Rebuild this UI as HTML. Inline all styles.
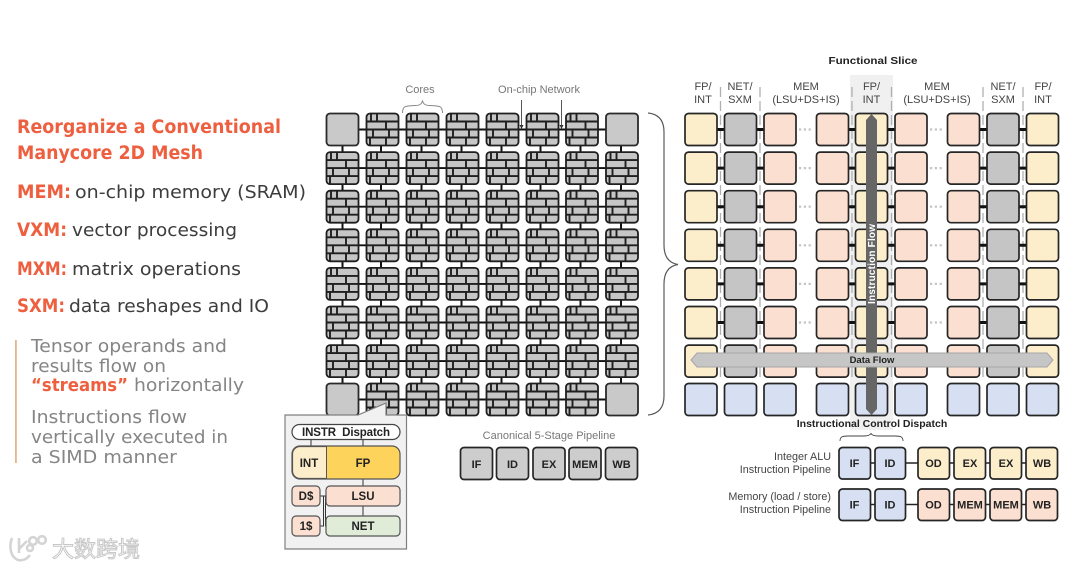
<!DOCTYPE html>
<html><head><meta charset="utf-8"><style>
html,body{margin:0;padding:0;background:#fff}
svg{display:block;filter:blur(0.35px)}
text{font-family:"Liberation Sans",sans-serif}
.d{font-family:"DejaVu Sans","Liberation Sans",sans-serif}
.h{font-size:18.5px;font-weight:bold;fill:#ee5f3f}
.b{font-size:18px;fill:#3d3d3d}
.g{font-size:18px;fill:#858585}
.l{font-size:11px;fill:#444;text-anchor:middle}
.k{font-size:11px;fill:#777;text-anchor:middle}
.t{font-size:10.5px;font-weight:bold;fill:#222;text-anchor:middle}
.p{font-size:10.8px;fill:#444;text-anchor:end}
.q{font-size:11px;font-weight:bold;fill:#222;text-anchor:middle}
.pop{font-size:11.5px;font-weight:bold;fill:#222;text-anchor:middle}
</style></head><body>
<svg width="1080" height="569" viewBox="0 0 1080 569" xmlns="http://www.w3.org/2000/svg">
<defs>
<g id="core">
<rect x="0.5" y="0.5" width="32" height="32" rx="3.5" fill="#c6c6c6" stroke="#1f1f1f" stroke-width="1.8"/>
<path d="M1 8.5H32M1 16.5H32M1 24.5H32M5 1V8.5M11 1V8.5M20 8.5V16.5M7 16.5V24.5M23 16.5V24.5M4 24.5V32M20 24.5V32" fill="none" stroke="#1f1f1f" stroke-width="1.9"/>
</g>
<rect id="plain" x="0.5" y="0.5" width="32" height="32" rx="3.5" fill="#c9c9c9" stroke="#2a2a2a" stroke-width="1.8"/>
<path id="vt" d="M16.5 33V39" stroke="#111" stroke-width="2" fill="none"/>
<g id="rowEnd">
<path d="M340 16.5H622" stroke="#111" stroke-width="1.9"/>
<use href="#plain" x="326"/><use href="#core" x="366"/><use href="#core" x="406"/><use href="#core" x="446"/><use href="#core" x="486"/><use href="#core" x="526"/><use href="#core" x="565.500"/><use href="#plain" x="605.500"/>
</g>
<g id="rowMid">
<path d="M340 16.5H622" stroke="#111" stroke-width="1.9"/>
<use href="#core" x="326"/><use href="#core" x="366"/><use href="#core" x="406"/><use href="#core" x="446"/><use href="#core" x="486"/><use href="#core" x="526"/><use href="#core" x="565.500"/><use href="#core" x="605.500"/>
</g>
<g id="vts">
<use href="#vt" x="326"/><use href="#vt" x="364.500"/><use href="#vt" x="405"/><use href="#vt" x="445"/><use href="#vt" x="485"/><use href="#vt" x="524"/><use href="#vt" x="564"/><use href="#vt" x="604.500"/>
</g>
<g id="rg">
<path d="M716 16.5H726M756 16.5H765M848 16.5H857M887 16.5H897M979 16.5H989M1018 16.5H1028" stroke="#111" stroke-width="3" fill="none"/>
<path d="M799 16.5H813M930 16.5H944" stroke="#c4c4c4" stroke-width="2.200" stroke-dasharray="2.200 2.600" fill="none"/>
<g stroke="#262626" stroke-width="1.700">
<rect x="685" y="0.5" width="32" height="32" rx="3.500" fill="#fdeecb"/>
<rect x="724.500" y="0.5" width="32" height="32" rx="3.500" fill="#c5c5c5"/>
<rect x="764" y="0.5" width="32" height="32" rx="3.500" fill="#fbdfd0"/>
<rect x="816.500" y="0.5" width="32" height="32" rx="3.500" fill="#fbdfd0"/>
<rect x="855.500" y="0.5" width="32" height="32" rx="3.500" fill="#fdeecb"/>
<rect x="895" y="0.5" width="32" height="32" rx="3.500" fill="#fbdfd0"/>
<rect x="947.500" y="0.5" width="32" height="32" rx="3.500" fill="#fbdfd0"/>
<rect x="987" y="0.5" width="32" height="32" rx="3.500" fill="#c5c5c5"/>
<rect x="1026.500" y="0.5" width="32" height="32" rx="3.500" fill="#fdeecb"/>
</g>
</g>
</defs>

<rect width="1080" height="569" fill="#fff"/>

<!-- Left copy -->
<text x="17" y="133" class="h d" textLength="264" lengthAdjust="spacingAndGlyphs">Reorganize a Conventional</text>
<text x="17" y="159" class="h d" textLength="186" lengthAdjust="spacingAndGlyphs">Manycore 2D Mesh</text>
<text x="17" y="198" class="h d" textLength="54" lengthAdjust="spacingAndGlyphs">MEM:</text>
<text x="75" y="198" class="b d" textLength="231" lengthAdjust="spacingAndGlyphs">on-chip memory (SRAM)</text>
<text x="17" y="236" class="h d" textLength="50" lengthAdjust="spacingAndGlyphs">VXM:</text>
<text x="72" y="236" class="b d" textLength="165" lengthAdjust="spacingAndGlyphs">vector processing</text>
<text x="17" y="275" class="h d" textLength="50" lengthAdjust="spacingAndGlyphs">MXM:</text>
<text x="72" y="275" class="b d" textLength="169" lengthAdjust="spacingAndGlyphs">matrix operations</text>
<text x="17" y="312" class="h d" textLength="48" lengthAdjust="spacingAndGlyphs">SXM:</text>
<text x="69" y="312" class="b d" textLength="200" lengthAdjust="spacingAndGlyphs">data reshapes and IO</text>
<rect x="15" y="340" width="1.800" height="123" fill="#e8b48c"/>
<text x="31" y="352" class="g d" textLength="196" lengthAdjust="spacingAndGlyphs">Tensor operands and</text>
<text x="31" y="372" class="g d" textLength="135" lengthAdjust="spacingAndGlyphs">results flow on</text>
<text x="31" y="391" class="d" font-size="18" font-weight="bold" fill="#ee5f3f" textLength="97" lengthAdjust="spacingAndGlyphs">“streams”</text>
<text x="134" y="391" class="g d" textLength="110" lengthAdjust="spacingAndGlyphs">horizontally</text>
<text x="31" y="423" class="g d" textLength="156" lengthAdjust="spacingAndGlyphs">Instructions flow</text>
<text x="31" y="443" class="g d" textLength="197" lengthAdjust="spacingAndGlyphs">vertically executed in</text>
<text x="31" y="463" class="g d" textLength="146" lengthAdjust="spacingAndGlyphs">a SIMD manner</text>

<!-- Watermark -->
<g fill="none" stroke="#d4d4d4" stroke-width="2.600">
<path d="M12 538C9 546 10 557 18 560C23 561 27 559 30 555"/>
<path d="M19 538V553M19 549L27 541"/>
<circle cx="33" cy="541" r="3.800"/><circle cx="42" cy="540" r="3.800"/><circle cx="30" cy="548" r="3"/>
</g>
<text x="52" y="557" font-size="22" style='font-family:"Noto Sans CJK SC",sans-serif' fill="#fff" stroke="#c8c8c8" stroke-width="1" textLength="88" lengthAdjust="spacingAndGlyphs">大数跨境</text>

<!-- Labels above the mesh -->
<text x="420" y="93" class="k">Cores</text>
<path d="M402.500 113C402.500 106 405 106 415 105.500C420 105.500 421.500 104 422.500 101C423.500 104 425 105.500 430 105.500C440 106 442.500 106 442.500 113" fill="none" stroke="#888" stroke-width="1"/>
<text x="539" y="93" class="k">On-chip Network</text>
<path d="M521.500 100V127M561.500 100V127" stroke="#444" stroke-width="0.900"/>
<path d="M519.500 125H523.500L521.500 129ZM559.500 125H563.500L561.500 129Z" fill="#333"/>

<!-- Mesh -->
<g transform="translate(0,113)"><use href="#vts"/><use href="#rowEnd"/></g>
<g transform="translate(0,151.600)"><use href="#vts"/><use href="#rowMid"/></g>
<g transform="translate(0,190.200)"><use href="#vts"/><use href="#rowMid"/></g>
<g transform="translate(0,228.800)"><use href="#vts"/><use href="#rowMid"/></g>
<g transform="translate(0,267.400)"><use href="#vts"/><use href="#rowMid"/></g>
<g transform="translate(0,306)"><use href="#vts"/><use href="#rowMid"/></g>
<g transform="translate(0,344.600)"><use href="#vts"/><use href="#rowMid"/></g>
<g transform="translate(0,383)"><use href="#rowEnd"/></g>

<!-- Large brace -->
<path d="M648 113C658 114 664 120 664 132V245C664 257 669 263 678 264.500C669 266 664 272 664 284V396C664 408 658 414 648 415" fill="none" stroke="#5a5a5a" stroke-width="1.200"/>

<!-- Popup -->
<path d="M285 415H358L386 403V415H406.500V549H285Z" fill="#f1f1f1" stroke="#808080" stroke-width="1.200"/>
<path d="M311 439V446M363 439V446M363 479V486M363 506V516" stroke="#444" stroke-width="1.100"/>
<path d="M320 496H323.500V526H320M323.500 496H326M325.500 496V526H326" fill="none" stroke="#333" stroke-width="1"/>
<rect x="292" y="424.500" width="108" height="15" rx="7.500" fill="#fff" stroke="#444" stroke-width="1.200"/>
<text x="346" y="436" class="pop" textLength="88" lengthAdjust="spacing" xml:space="preserve">INSTR  Dispatch</text>
<rect x="292" y="446" width="108" height="33" rx="8" fill="#fdd35c" stroke="#555" stroke-width="1.200"/>
<path d="M326.500 446.600H300A7.400 7.400 0 0 0 292.600 454V471A7.400 7.400 0 0 0 300 478.400H326.500Z" fill="#fdeecb" stroke="#555" stroke-width="1"/>
<text x="309" y="467" class="pop">INT</text>
<text x="363" y="467" class="pop">FP</text>
<rect x="292" y="486" width="28" height="20" rx="4" fill="#fbdfd0" stroke="#555" stroke-width="1.200"/>
<text x="306" y="500" class="pop">D$</text>
<rect x="326" y="486" width="74" height="20" rx="4" fill="#fbdfd0" stroke="#555" stroke-width="1.200"/>
<text x="363" y="500" class="pop">LSU</text>
<rect x="292" y="516" width="28" height="20" rx="4" fill="#fbdfd0" stroke="#555" stroke-width="1.200"/>
<text x="306" y="530" class="pop">1$</text>
<rect x="326" y="516" width="74" height="20" rx="4" fill="#e0ecd8" stroke="#555" stroke-width="1.200"/>
<text x="363" y="530" class="pop">NET</text>

<!-- Canonical pipeline -->
<text x="549" y="439" class="k">Canonical 5-Stage Pipeline</text>
<g fill="#cdcdcd" stroke="#262626" stroke-width="1.700">
<rect x="460.500" y="447.500" width="32" height="32" rx="3.500"/>
<rect x="496.500" y="447.500" width="32" height="32" rx="3.500"/>
<rect x="533" y="447.500" width="32" height="32" rx="3.500"/>
<rect x="569" y="447.500" width="32" height="32" rx="3.500"/>
<rect x="605.500" y="447.500" width="32" height="32" rx="3.500"/>
</g>
<text x="476.500" y="468" class="q">IF</text>
<text x="512.500" y="468" class="q">ID</text>
<text x="549" y="468" class="q">EX</text>
<text x="585" y="468" class="q">MEM</text>
<text x="621.500" y="468" class="q">WB</text>

<!-- Functional slice -->
<text x="873" y="64" class="t" textLength="89" lengthAdjust="spacingAndGlyphs">Functional Slice</text>
<rect x="850" y="75" width="43" height="355" fill="#f0f0f0"/>
<text x="703" y="90" class="l">FP/</text><text x="703" y="103" class="l">INT</text>
<text x="740" y="90" class="l">NET/</text><text x="740" y="103" class="l">SXM</text>
<text x="806" y="90" class="l">MEM</text><text x="806" y="103" class="l">(LSU+DS+IS)</text>
<text x="871.500" y="90" class="l">FP/</text><text x="871.500" y="103" class="l">INT</text>
<text x="937" y="90" class="l">MEM</text><text x="937" y="103" class="l">(LSU+DS+IS)</text>
<text x="1003" y="90" class="l">NET/</text><text x="1003" y="103" class="l">SXM</text>
<text x="1043" y="90" class="l">FP/</text><text x="1043" y="103" class="l">INT</text>
<path d="M720.500 87V380M760 87V380M852 87V380M891.500 87V380M983 87V380M1023 87V380" stroke="#b0b0b0" stroke-width="1.300" stroke-dasharray="10 4" fill="none"/>

<use href="#rg" y="113"/>
<use href="#rg" y="151.600"/>
<use href="#rg" y="190.200"/>
<use href="#rg" y="228.800"/>
<use href="#rg" y="267.400"/>
<use href="#rg" y="306"/>
<use href="#rg" y="344.600"/>
<g fill="#d6e0f2" stroke="#262626" stroke-width="1.700" transform="translate(0,383)">
<rect x="685" y="0.500" width="32" height="32" rx="3.500"/>
<rect x="724.500" y="0.500" width="32" height="32" rx="3.500"/>
<rect x="764" y="0.500" width="32" height="32" rx="3.500"/>
<rect x="816.500" y="0.500" width="32" height="32" rx="3.500"/>
<rect x="855.500" y="0.500" width="32" height="32" rx="3.500"/>
<rect x="895" y="0.500" width="32" height="32" rx="3.500"/>
<rect x="947.500" y="0.500" width="32" height="32" rx="3.500"/>
<rect x="987" y="0.500" width="32" height="32" rx="3.500"/>
<rect x="1026.500" y="0.500" width="32" height="32" rx="3.500"/>
</g>

<!-- Instruction flow arrow -->
<path d="M871.500 114L877 120V409L871.500 415L866 409V120Z" fill="#666"/>
<text transform="translate(875,264) rotate(-90)" font-size="10" font-weight="bold" fill="#fff" text-anchor="middle" textLength="80">Instruction Flow</text>

<!-- Data flow arrow -->
<path d="M691 360L697 353H1047L1053 360L1047 367H697Z" fill="#c6c6c6" stroke="#a6a6a6" stroke-width="1"/>
<text x="872" y="363" font-size="9.500" font-weight="bold" fill="#222" text-anchor="middle">Data Flow</text>

<!-- Instruction pipelines -->
<text x="872" y="427" class="t">Instructional Control Dispatch</text>
<path d="M840 441C840 437 842 436 848 436H864C868 436 870 435 871 433.500C872 435 874 436 878 436H895C901 436 903 437 903 441" fill="none" stroke="#444" stroke-width="0.900"/>
<text x="831" y="460" class="p">Integer ALU</text>
<text x="831" y="473" class="p">Instruction Pipeline</text>
<text x="831" y="500" class="p">Memory (load / store)</text>
<text x="831" y="513" class="p">Instruction Pipeline</text>
<path d="M870 463H876M905 463H918M949 463H955M985 463H991M1021 463H1027M870 504.500H876M905 504.500H918M949 504.500H955M985 504.500H991M1021 504.500H1027" stroke="#222" stroke-width="1.500" fill="none"/>
<g stroke="#262626" stroke-width="1.700">
<rect x="839" y="447.500" width="31.500" height="31.500" rx="3.500" fill="#d6e0f2"/>
<rect x="875" y="447.500" width="30.500" height="31.500" rx="3.500" fill="#d6e0f2"/>
<rect x="918" y="447.500" width="31.500" height="31.500" rx="3.500" fill="#fdeecb"/>
<rect x="954" y="447.500" width="31.500" height="31.500" rx="3.500" fill="#fdeecb"/>
<rect x="990" y="447.500" width="31.500" height="31.500" rx="3.500" fill="#fdeecb"/>
<rect x="1026" y="447.500" width="31.500" height="31.500" rx="3.500" fill="#fdeecb"/>
<rect x="839" y="489" width="31.500" height="31.500" rx="3.500" fill="#d6e0f2"/>
<rect x="875" y="489" width="30.500" height="31.500" rx="3.500" fill="#d6e0f2"/>
<rect x="918" y="489" width="31.500" height="31.500" rx="3.500" fill="#fbdfd0"/>
<rect x="954" y="489" width="31.500" height="31.500" rx="3.500" fill="#fbdfd0"/>
<rect x="990" y="489" width="31.500" height="31.500" rx="3.500" fill="#fbdfd0"/>
<rect x="1026" y="489" width="31.500" height="31.500" rx="3.500" fill="#fbdfd0"/>
</g>
<text x="854.500" y="467" class="q">IF</text>
<text x="890" y="467" class="q">ID</text>
<text x="933.500" y="467" class="q">OD</text>
<text x="970" y="467" class="q">EX</text>
<text x="1006" y="467" class="q">EX</text>
<text x="1042" y="467" class="q">WB</text>
<text x="854.500" y="508.500" class="q">IF</text>
<text x="890" y="508.500" class="q">ID</text>
<text x="933.500" y="508.500" class="q">OD</text>
<text x="970" y="508.500" class="q">MEM</text>
<text x="1006" y="508.500" class="q">MEM</text>
<text x="1042" y="508.500" class="q">WB</text>
</svg>
</body></html>
